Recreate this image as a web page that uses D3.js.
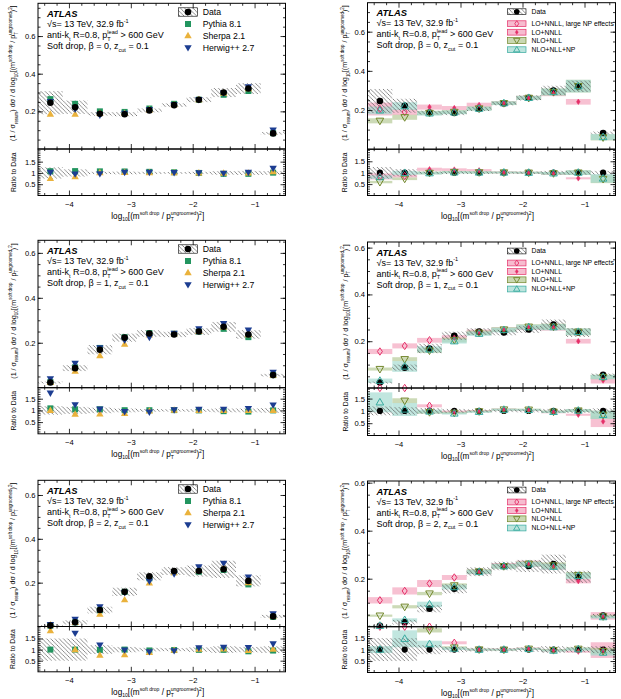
<!DOCTYPE html>
<html><head><meta charset="utf-8">
<script src="https://cdn.jsdelivr.net/npm/d3@7"></script>
<style>body{margin:0;background:#fff} svg{display:block}</style>
</head><body><svg id="c" width="621" height="699"></svg>
<script>
// ---------------- DATA ----------------
const binCenters = [-4.3,-3.9,-3.5,-3.1,-2.7,-2.3,-1.9,-1.5,-1.1,-0.7];
const binWidth = 0.4;
const xTickValues = [-4,-3,-2,-1];
const mainTickLabels = [0.2,0.4,0.6];
const ratioTickLabels = [0.5,1,1.5];
const betas = [0,1,2];
const mcNames = ["Pythia 8.1","Sherpa 2.1","Herwig++ 2.7"];
const calcNames = ["LO+NNLL, large NP effects","LO+NNLL","NLO+NLL","NLO+NLL+NP"];

// beta = 0
const dataB0      = [0.246,0.222,0.187,0.185,0.205,0.233,0.262,0.300,0.321,0.083];
const dataUncB0   = [0.25,0.16,0.05,0.06,0.05,0.04,0.05,0.08,0.09,0.08];
const pythiaB0    = [0.265,0.240,0.200,0.197,0.215,0.240,0.262,0.288,0.308,0.084];
const sherpaB0    = [0.185,0.185,0.190,0.190,0.208,0.235,0.262,0.297,0.320,0.088];
const herwigB0    = [0.252,0.212,0.180,0.190,0.210,0.236,0.262,0.296,0.330,0.100];
const lonnllB0    = [0.205,0.190,0.215,0.210,0.226,0.236,0.262,0.285,0.242,null];
const lonnllUncB0 = [0.16,0.08,0.06,0.05,0.05,0.04,0.04,0.05,0.06,null];
const largeNPB0   = [true,true,false,false,false,false,false,false,false,false];
const nlonllB0    = [0.145,0.163,0.185,0.190,0.208,0.235,0.262,0.292,0.322,0.060];
const nlonllUncB0 = [0.09,0.08,0.06,0.05,0.05,0.04,0.04,0.06,0.10,0.25];
const npB0        = [0.198,0.220,0.183,0.188,0.207,0.235,0.262,0.292,0.322,0.062];
const npUncB0     = [0.10,0.09,0.06,0.05,0.05,0.04,0.04,0.06,0.10,0.25];

// beta = 1
const dataB1      = [0.023,0.087,0.169,0.223,0.241,0.237,0.250,0.271,0.237,0.056];
const dataUncB1   = [0.18,0.15,0.12,0.08,0.06,0.05,0.06,0.08,0.08,0.10];
const pythiaB1    = [0.025,0.091,0.177,0.225,0.243,0.240,0.250,0.262,0.225,0.056];
const sherpaB1    = [0.023,0.073,0.143,0.194,0.235,0.240,0.250,0.270,0.236,0.056];
const herwigB1    = [0.040,0.108,0.178,0.212,0.224,0.242,0.262,0.285,0.256,0.069];
const lonnllB1    = [0.156,0.180,0.204,0.215,0.240,0.250,0.258,0.258,0.200,0.032];
const lonnllUncB1 = [0.07,0.06,0.05,0.05,0.04,0.04,0.04,0.05,0.05,0.40];
const largeNPB1   = [true,true,true,false,false,false,false,false,false,false];
const nlonllB1    = [0.081,0.123,0.160,0.205,0.236,0.250,0.262,0.262,0.240,0.047];
const nlonllUncB1 = [0.08,0.07,0.06,0.05,0.04,0.04,0.04,0.05,0.06,0.20];
const npB1        = [0.031,0.092,0.165,0.200,0.232,0.248,0.260,0.260,0.240,0.047];
const npUncB1     = [0.30,0.25,0.08,0.05,0.04,0.04,0.04,0.05,0.06,0.20];

// beta = 2
const dataB2      = [0.004,0.019,0.075,0.158,0.229,0.253,0.253,0.261,0.208,0.046];
const dataUncB2   = [0.50,0.50,0.20,0.12,0.08,0.07,0.10,0.15,0.12,0.15];
const pythiaB2    = [0.004,0.019,0.074,0.158,0.220,0.248,0.250,0.258,0.192,0.044];
const sherpaB2    = [0.0074,0.019,0.056,0.122,0.199,0.245,0.258,0.270,0.200,0.047];
const herwigB2    = [0.009,0.033,0.090,0.155,0.207,0.240,0.272,0.288,0.226,0.058];
const lonnllB2    = [0.110,0.149,0.180,0.205,0.228,0.255,0.262,0.250,0.190,0.045];
const lonnllUncB2 = [0.12,0.10,0.08,0.05,0.04,0.04,0.05,0.05,0.05,0.35];
const largeNPB2   = [true,true,true,true,false,false,false,false,false,false];
const nlonllB2    = [0.046,0.083,0.138,0.172,0.230,0.252,0.262,0.255,0.215,0.043];
const nlonllUncB2 = [0.10,0.08,0.05,0.05,0.04,0.04,0.04,0.05,0.06,0.15];
const npB2        = [0.004,0.028,0.093,0.165,0.228,0.252,0.260,0.250,0.212,0.040];
const npUncB2     = [0.15,0.25,0.12,0.06,0.04,0.04,0.04,0.05,0.06,0.15];

const seriesByBeta = [
  {data:dataB0, unc:dataUncB0, mc:[pythiaB0,sherpaB0,herwigB0],
   lo:lonnllB0, loU:lonnllUncB0, np0:largeNPB0, nl:nlonllB0, nlU:nlonllUncB0, np:npB0, npU:npUncB0},
  {data:dataB1, unc:dataUncB1, mc:[pythiaB1,sherpaB1,herwigB1],
   lo:lonnllB1, loU:lonnllUncB1, np0:largeNPB1, nl:nlonllB1, nlU:nlonllUncB1, np:npB1, npU:npUncB1},
  {data:dataB2, unc:dataUncB2, mc:[pythiaB2,sherpaB2,herwigB2],
   lo:lonnllB2, loU:lonnllUncB2, np0:largeNPB2, nl:nlonllB2, nlU:nlonllUncB2, np:npB2, npU:npUncB2}
];

// ---------------- STYLE / LAYOUT ----------------
const FONT = "'Liberation Sans', Arial, Helvetica, sans-serif";
const mcColors = ["#22955f","#eab23c","#1c3d91"];
const pinkC = "#e52f68", pinkB = "#f3a6bf";
const oliveC = "#71862a", oliveB = "#b7cb98";
const tealC = "#37aa9f", tealB = "#a6dbd2";

const layout = [
  {col:0,row:0,x0:38,x1:285.5,top:3.3,mid:149,bot:195.5,ymax:0.774,rmax:2.06},
  {col:1,row:0,x0:367.5,x1:615.5,top:2.7,mid:149.2,bot:195.5,ymax:0.748,rmax:2.03},
  {col:0,row:1,x0:38,x1:285.5,top:240.3,mid:387.7,bot:433.8,ymax:0.656,rmax:1.97},
  {col:1,row:1,x0:367.5,x1:615.5,top:242,mid:388,bot:435.5,ymax:0.624,rmax:1.93},
  {col:0,row:2,x0:38,x1:285.5,top:480.3,mid:626.5,bot:671.8,ymax:0.667,rmax:2.04},
  {col:1,row:2,x0:367.5,x1:615.5,top:481,mid:626.7,bot:672.5,ymax:0.607,rmax:2.0}
];

const svg = d3.select("#c");
svg.append("rect").attr("width",621).attr("height",699).attr("fill","#fff");
const defs = svg.append("defs");
const hatch = defs.append("pattern").attr("id","hatch").attr("patternUnits","userSpaceOnUse")
  .attr("width",4.2).attr("height",4.2);
hatch.append("path").attr("d","M-1,-1L5.2,5.2M-1,3.2L1,5.2M3.2,-1L5.2,1").attr("stroke","#505050").attr("stroke-width",0.65);

const ctx = document.createElement("canvas").getContext("2d");
function tw(t, fs){ ctx.font = fs + "px 'Liberation Sans'"; return ctx.measureText(t).width; }

function rich(parent, x, y, parts, fs, anchor, rotate) {
  const t = parent.append("text").attr("x",x).attr("y",y).attr("font-size",fs)
    .attr("text-anchor",anchor||"start").attr("font-family",FONT).attr("fill","#000");
  if (rotate) t.attr("transform",`rotate(-90,${x},${y})`);
  let cur = 0;
  const ss = fs*0.62;
  parts.forEach(p => {
    if (typeof p === "string") { t.append("tspan").attr("dy",-cur).text(p); cur = 0; }
    else if (p.sub !== undefined) {
      const off = fs*0.3;
      t.append("tspan").attr("font-size",ss).attr("dy",off-cur).text(p.sub); cur = off;
      if (p.sup !== undefined) {
        const off2 = -fs*0.45;
        t.append("tspan").attr("font-size",ss).attr("dx",-tw(p.sub,ss)).attr("dy",off2-cur).text(p.sup); cur = off2;
      }
    } else if (p.sup !== undefined) {
      const off2 = -fs*0.45;
      t.append("tspan").attr("font-size",ss).attr("dy",off2-cur).text(p.sup); cur = off2;
    }
  });
  return t;
}

// marker shapes
const shp = {
  circle: r => `M${-r},0A${r},${r} 0 1,0 ${r},0A${r},${r} 0 1,0 ${-r},0Z`,
  square: s => `M${-s/2},${-s/2}h${s}v${s}h${-s}Z`,
  up: (w,h) => `M0,${-h*0.6}L${w/2},${h*0.4}L${-w/2},${h*0.4}Z`,
  down: (w,h) => `M0,${h*0.6}L${w/2},${-h*0.4}L${-w/2},${-h*0.4}Z`,
  diamond: (w,h) => `M0,${-h/2}L${w/2},0L0,${h/2}L${-w/2},0Z`
};
const mcShapes = [shp.square(6), shp.up(7.4,6.4), shp.down(7.4,6.4)];

function marker(g, d, cx, cy, fill, stroke, sw) {
  g.append("path").attr("d",d).attr("transform",`translate(${cx},${cy})`)
    .attr("fill",fill).attr("stroke",stroke||"none").attr("stroke-width",sw||0);
}

function styleAxis(a){
  a.select(".domain").remove();
  a.selectAll("line").attr("stroke","#000").attr("stroke-width",0.8);
  a.selectAll("text").attr("font-size",7.6).attr("font-family",FONT).attr("fill","#000");
  a.attr("font-size",null).attr("font-family",null);
  return a;
}

function axes(g, x, y, r, L) {
  const minorX = d3.range(-4.4,-0.55,0.2).filter(v => Math.abs(v-Math.round(v))>0.01);
  const minorY = d3.range(0.05, L.ymax, 0.05);
  const minorR = d3.range(0.1, L.rmax, 0.1);
  const fmtR = d => d===1 ? "1" : String(d);
  // main
  styleAxis(g.append("g").attr("transform",`translate(${L.x0},0)`).call(d3.axisLeft(y).tickValues(mainTickLabels).tickSize(-5).tickPadding(2.5).tickFormat(d3.format(".1f"))));
  styleAxis(g.append("g").attr("transform",`translate(${L.x0},0)`).call(d3.axisLeft(y).tickValues(minorY).tickSize(-2.5).tickFormat("")));
  styleAxis(g.append("g").attr("transform",`translate(${L.x1},0)`).call(d3.axisRight(y).tickValues(mainTickLabels).tickSize(-5).tickFormat("")));
  styleAxis(g.append("g").attr("transform",`translate(${L.x1},0)`).call(d3.axisRight(y).tickValues(minorY).tickSize(-2.5).tickFormat("")));
  styleAxis(g.append("g").attr("transform",`translate(0,${L.top})`).call(d3.axisTop(x).tickValues(xTickValues).tickSize(-5).tickFormat("")));
  styleAxis(g.append("g").attr("transform",`translate(0,${L.top})`).call(d3.axisTop(x).tickValues(minorX).tickSize(-2.5).tickFormat("")));
  styleAxis(g.append("g").attr("transform",`translate(0,${L.mid})`).call(d3.axisBottom(x).tickValues(xTickValues).tickSize(-5).tickFormat("")));
  styleAxis(g.append("g").attr("transform",`translate(0,${L.mid})`).call(d3.axisBottom(x).tickValues(minorX).tickSize(-2.5).tickFormat("")));
  // ratio
  styleAxis(g.append("g").attr("transform",`translate(${L.x0},0)`).call(d3.axisLeft(r).tickValues(ratioTickLabels).tickSize(-5).tickPadding(2.5).tickFormat(fmtR)));
  styleAxis(g.append("g").attr("transform",`translate(${L.x0},0)`).call(d3.axisLeft(r).tickValues(minorR).tickSize(-2.5).tickFormat("")));
  styleAxis(g.append("g").attr("transform",`translate(${L.x1},0)`).call(d3.axisRight(r).tickValues(ratioTickLabels).tickSize(-5).tickFormat("")));
  styleAxis(g.append("g").attr("transform",`translate(${L.x1},0)`).call(d3.axisRight(r).tickValues(minorR).tickSize(-2.5).tickFormat("")));
  styleAxis(g.append("g").attr("transform",`translate(0,${L.mid})`).call(d3.axisTop(x).tickValues(xTickValues).tickSize(-4).tickFormat("")));
  styleAxis(g.append("g").attr("transform",`translate(0,${L.mid})`).call(d3.axisTop(x).tickValues(minorX).tickSize(-2).tickFormat("")));
  styleAxis(g.append("g").attr("transform",`translate(0,${L.bot})`).call(d3.axisBottom(x).tickValues(xTickValues).tickSize(-5).tickPadding(6.2).tickFormat(d3.format("d"))));
  styleAxis(g.append("g").attr("transform",`translate(0,${L.bot})`).call(d3.axisBottom(x).tickValues(minorX).tickSize(-2.5).tickFormat("")));
  // frames
  g.append("rect").attr("x",L.x0).attr("y",L.top).attr("width",L.x1-L.x0).attr("height",L.mid-L.top).attr("fill","none").attr("stroke","#000").attr("stroke-width",1);
  g.append("rect").attr("x",L.x0).attr("y",L.mid).attr("width",L.x1-L.x0).attr("height",L.bot-L.mid).attr("fill","none").attr("stroke","#000").attr("stroke-width",1);
}

function bandRects(g, x, yfun, vals, uncs, fill, opacity) {
  binCenters.forEach((c,i) => {
    const v = vals[i]; if (v === null || v === undefined) return;
    const lo = yfun(i, v*(1-uncs[i])), hi = yfun(i, v*(1+uncs[i]));
    g.append("rect").attr("x",x(c-binWidth/2)).attr("width",x(c+binWidth/2)-x(c-binWidth/2))
      .attr("y",Math.min(lo,hi)).attr("height",Math.abs(lo-hi)).attr("fill",fill).attr("fill-opacity",opacity);
  });
}

function drawPanel(L, idx) {
  const S = seriesByBeta[L.row];
  const beta = betas[L.row];
  const g = svg.append("g");
  const x = d3.scaleLinear().domain([-4.5,-0.5]).range([L.x0,L.x1]);
  const y = d3.scaleLinear().domain([0,L.ymax]).range([L.mid,L.top]);
  const r = d3.scaleLinear().domain([0,L.rmax]).range([L.bot,L.mid]);
  const cm = "cm"+idx, cr = "cr"+idx;
  defs.append("clipPath").attr("id",cm).append("rect").attr("x",L.x0).attr("y",L.top).attr("width",L.x1-L.x0).attr("height",L.mid-L.top);
  defs.append("clipPath").attr("id",cr).append("rect").attr("x",L.x0).attr("y",L.mid).attr("width",L.x1-L.x0).attr("height",L.bot-L.mid);
  const gm = g.append("g").attr("clip-path",`url(#${cm})`);
  const gr = g.append("g").attr("clip-path",`url(#${cr})`);
  const ym = (i,v) => y(v);
  const yr = (i,v) => r(v / S.data[i]);

  if (L.col === 1) {
    [[S.lo,S.loU,pinkB],[S.nl,S.nlU,oliveB],[S.np,S.npU,tealB]].forEach(([v,u,c]) => {
      bandRects(gm, x, ym, v, u, c, 0.7);
      bandRects(gr, x, yr, v, u, c, 0.7);
    });
  }
  // data hatch
  binCenters.forEach((c,i) => {
    const v = S.data[i], u = S.unc[i];
    const xa = x(c-binWidth/2), w = x(c+binWidth/2)-xa;
    gm.append("rect").attr("x",xa).attr("width",w).attr("y",y(v*(1+u))).attr("height",y(v*(1-u))-y(v*(1+u))).attr("fill","url(#hatch)");
    gr.append("rect").attr("x",xa).attr("width",w).attr("y",r(1+u)).attr("height",r(1-u)-r(1+u)).attr("fill","url(#hatch)");
  });

  const inR = v => v >= 0 && v <= L.rmax;
  if (L.col === 0) {
    S.mc.forEach((vals,k) => {
      binCenters.forEach((c,i) => {
        marker(g, mcShapes[k], x(c), y(vals[i]), mcColors[k]);
        const rv = vals[i]/S.data[i];
        if (inR(rv)) marker(g, mcShapes[k], x(c), r(rv), mcColors[k]);
      });
    });
    binCenters.forEach((c,i) => marker(g, shp.circle(3.3), x(c), y(S.data[i]), "#000"));
  } else {
    binCenters.forEach((c,i) => {
      marker(g, shp.circle(3.3), x(c), y(S.data[i]), "#000");
      marker(g, shp.circle(3.1), x(c), r(1), "#000");
    });
    const series = [
      [S.lo, (i) => S.np0[i] ? [shp.diamond(5,7.4),"none",pinkC,1] : [shp.diamond(3.6,5.6),pinkC,pinkC,0.5], true],
      [S.nl, () => [shp.down(7.6,6.6),"none",oliveC,1], false],
      [S.np, () => [shp.up(7.6,6.6),"none",tealC,1], false]
    ];
    series.forEach(([vals, st, clamp]) => {
      binCenters.forEach((c,i) => {
        const v = vals[i]; if (v === null) return;
        const [d,f,s,sw] = st(i);
        marker(g, d, x(c), y(v), f, s, sw);
        let rv = v / S.data[i];
        if (rv > L.rmax && clamp) rv = L.rmax;
        if (inR(rv)) marker(g, d, x(c), r(rv), f, s, sw);
      });
    });
  }

  axes(g, x, y, r, L);

  // text block
  const tx = L.x0 + 9;
  g.append("text").attr("x",tx).attr("y",L.top+13.5).attr("font-size",9.4).attr("font-weight","bold")
    .attr("font-style","italic").attr("font-family",FONT).text("ATLAS");
  rich(g, tx, L.top+23.5, ["\u221As= 13 TeV, 32.9 fb", {sup:"-1"}], 9);
  rich(g, tx, L.top+34.5, ["anti-k", {sub:"t"}, " R=0.8, p", {sub:"T", sup:"lead"}, " > 600 GeV"], 9);
  rich(g, tx, L.top+45.5, ["Soft drop, \u03B2 = " + beta + ", z", {sub:"cut"}, " = 0.1"], 9);

  // legend
  if (L.col === 0) {
    const mx = L.x1 - 97.5, txl = L.x1 - 82.8;
    const rows = [8.7, 20.7, 32.4, 44.4];
    g.append("rect").attr("x",mx-9.5).attr("y",L.top+rows[0]-4.2).attr("width",19).attr("height",8.4)
      .attr("fill","url(#hatch)").attr("stroke","#000").attr("stroke-width",0.6);
    marker(g, shp.circle(3.3), mx, L.top+rows[0], "#000");
    g.append("text").attr("x",txl).attr("y",L.top+rows[0]+3.1).attr("font-size",8.7).attr("font-family",FONT).text("Data");
    mcNames.forEach((n,k) => {
      marker(g, mcShapes[k], mx, L.top+rows[k+1], mcColors[k]);
      g.append("text").attr("x",txl).attr("y",L.top+rows[k+1]+3.1).attr("font-size",8.7).attr("font-family",FONT).text(n);
    });
  } else {
    const bx = L.x1 - 108, bw = 18.5, bh = 5.8, txl = L.x1 - 84;
    const rows = [9, 21, 29.5, 37.8, 47];
    const cxm = bx + bw/2;
    g.append("rect").attr("x",bx).attr("y",L.top+rows[0]-bh/2).attr("width",bw).attr("height",bh)
      .attr("fill","url(#hatch)").attr("stroke","#000").attr("stroke-width",0.6);
    marker(g, shp.circle(2.8), cxm, L.top+rows[0], "#000");
    g.append("text").attr("x",txl).attr("y",L.top+rows[0]+2.3).attr("font-size",6.8).attr("font-family",FONT).text("Data");
    const leg = [
      [pinkB, pinkC, shp.diamond(4,6), "none", 0.9],
      [pinkB, pinkC, shp.diamond(3,4.6), pinkC, 0.4],
      [oliveB, oliveC, shp.down(6.4,5.4), "none", 0.9],
      [tealB, tealC, shp.up(6.4,5.4), "none", 0.9]
    ];
    leg.forEach(([bf, bc, d, mf, sw], k) => {
      const cy = L.top + rows[k+1];
      g.append("rect").attr("x",bx).attr("y",cy-bh/2).attr("width",bw).attr("height",bh)
        .attr("fill",bf).attr("fill-opacity",0.75).attr("stroke",bc).attr("stroke-width",0.7);
      marker(g, d, cxm, cy, mf, bc, sw);
      g.append("text").attr("x",txl).attr("y",cy+2.3).attr("font-size",6.8).attr("font-family",FONT).text(calcNames[k]);
    });
  }

  // axis titles
  const yx = L.col === 0 ? L.x0 - 22.5 : L.x0 - 20;
  rich(g, yx, (L.top+L.mid)/2 - 3, ["(1 / \u03C3", {sub:"resum"}, ") d\u03C3 / d log", {sub:"10"}, "[(m", {sup:"soft drop"}, " / p", {sub:"T", sup:"ungroomed"}, ")", {sup:"2"}, "]"], 7.2, "middle", true);
  rich(g, yx, (L.mid+L.bot)/2, ["Ratio to Data"], 6.8, "middle", true);
  rich(g, (L.x0+L.x1)/2 - 4, L.bot + 23, ["log", {sub:"10"}, "[(m", {sup:"soft drop"}, " / p", {sub:"T", sup:"ungroomed"}, ")", {sup:"2"}, "]"], 8.2, "middle");
}

layout.forEach((L,i) => drawPanel(L,i));
</script>
</body></html>
